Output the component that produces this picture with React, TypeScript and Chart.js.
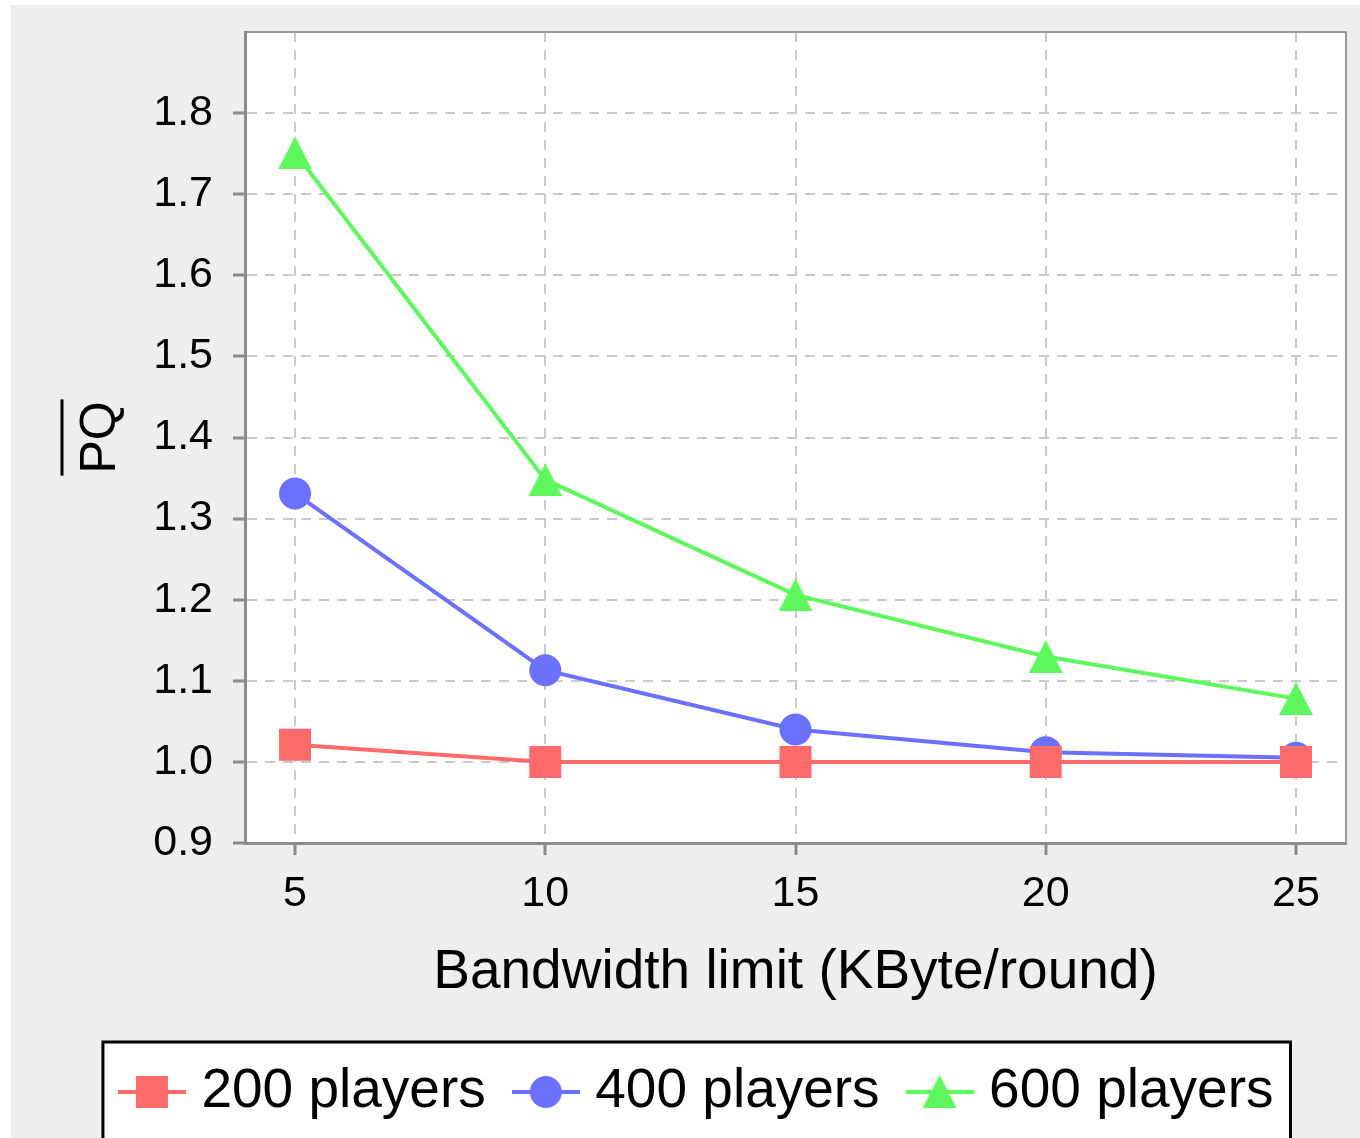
import React, { useEffect, useRef } from "react";
import { Chart, registerables } from "chart.js";

Chart.register(...registerables);

// ---- data ----
const xValues = [5, 10, 15, 20, 25];
const players200 = [1.021, 1.0, 1.0, 1.0, 1.0];
const players400 = [1.331, 1.113, 1.04, 1.012, 1.005];
const players600 = [1.751, 1.348, 1.206, 1.13, 1.078];
const seriesLabels = ["200 players", "400 players", "600 players"];
const xTickValues = [5, 10, 15, 20, 25];
const yTickValues = [0.9, 1.0, 1.1, 1.2, 1.3, 1.4, 1.5, 1.6, 1.7, 1.8];
const xTitle = "Bandwidth limit (KByte/round)";
const yTitle = "PQ";

// ---- styles ----
const FONT = '"Liberation Sans", Arial, sans-serif';
const RED = "#ff6b6b";
const BLUE = "#6b70ff";
const GREEN = "#5ef75e";
const COLORS = [RED, BLUE, GREEN];
const AXIS = "#8c8c8c";
const GRID = "#cacaca";
const W = 1349;
const H = 1133;

function makeTriangle(w: number, h: number, color: string) {
  const c = document.createElement("canvas");
  c.width = w;
  c.height = h;
  const ctx = c.getContext("2d")!;
  ctx.fillStyle = color;
  ctx.beginPath();
  ctx.moveTo(w / 2, 0);
  ctx.lineTo(w, h);
  ctx.lineTo(0, h);
  ctx.closePath();
  ctx.fill();
  return c;
}

function makeLegendImage(color: string, style: string) {
  const w = 68;
  const h = 36;
  const c = document.createElement("canvas");
  c.width = w;
  c.height = h;
  const ctx = c.getContext("2d")!;
  ctx.fillStyle = color;
  ctx.fillRect(0, h / 2 - 2, w, 4);
  if (style === "rect") {
    ctx.fillRect(w / 2 - 16, h / 2 - 16, 32, 32);
  } else if (style === "circle") {
    ctx.beginPath();
    ctx.arc(w / 2, h / 2, 16, 0, Math.PI * 2);
    ctx.fill();
  } else {
    ctx.beginPath();
    ctx.moveTo(w / 2, h / 2 - 17);
    ctx.lineTo(w / 2 + 17, h / 2 + 16);
    ctx.lineTo(w / 2 - 17, h / 2 + 16);
    ctx.closePath();
    ctx.fill();
  }
  return c;
}

export default function App() {
  const ref = useRef<HTMLCanvasElement>(null);

  useEffect(() => {
    const triangle = makeTriangle(34, 33, GREEN);
    const legendImages = [
      makeLegendImage(RED, "rect"),
      makeLegendImage(BLUE, "circle"),
      makeLegendImage(GREEN, "triangle"),
    ];

    const decor = {
      id: "decor",
      beforeDraw(chart: any) {
        const { ctx, chartArea: ca } = chart;
        ctx.save();
        ctx.fillStyle = "#ffffff";
        ctx.fillRect(ca.left, ca.top, ca.right - ca.left, ca.bottom - ca.top);
        const hb = chart.legend?.legendHitBoxes;
        if (hb && hb.length) {
          const first = hb[0];
          const last = hb[hb.length - 1];
          const left = first.left - 27;
          const right = last.left + last.width + 17;
          const top = first.top + first.height / 2 - 50;
          ctx.fillStyle = "#ffffff";
          ctx.fillRect(left, top, right - left, chart.height + 20 - top);
          ctx.strokeStyle = "#000000";
          ctx.lineWidth = 3;
          ctx.strokeRect(left, top, right - left, chart.height + 20 - top);
        }
        ctx.restore();
      },
      beforeDatasetsDraw(chart: any) {
        const { ctx, chartArea: ca } = chart;
        ctx.save();
        ctx.strokeStyle = "#999999";
        ctx.lineWidth = 2;
        ctx.beginPath();
        ctx.moveTo(ca.left, ca.top);
        ctx.lineTo(ca.right, ca.top);
        ctx.lineTo(ca.right, ca.bottom);
        ctx.stroke();
        ctx.restore();
      },
      afterDraw(chart: any) {
        const { ctx, chartArea: ca } = chart;
        const cy = (ca.top + ca.bottom) / 2;
        ctx.save();
        ctx.translate(104, cy);
        ctx.rotate(-Math.PI / 2);
        ctx.font = `50px ${FONT}`;
        ctx.fillStyle = "#000000";
        ctx.textAlign = "center";
        ctx.textBaseline = "alphabetic";
        ctx.fillText(yTitle, 0, 0);
        const tw = ctx.measureText(yTitle).width + 4;
        ctx.fillRect(-tw / 2, -54.5, tw, 3);
        ctx.restore();
      },
    };

    const gridCommon = {
      color: GRID,
      lineWidth: 2,
      drawTicks: true,
      tickLength: 12,
      tickColor: AXIS,
      tickWidth: 3,
      tickBorderDash: [],
    };
    const borderCommon = { color: AXIS, width: 3, dash: [10, 8] };

    const chart = new Chart(ref.current!, {
      type: "line",
      data: {
        datasets: [
          {
            label: seriesLabels[0],
            data: xValues.map((x, i) => ({ x, y: players200[i] })),
            borderColor: RED,
            backgroundColor: RED,
            borderWidth: 4,
            pointStyle: "rect",
            pointRadius: 16 * Math.SQRT2,
            pointBorderWidth: 0,
            pointBackgroundColor: RED,
            pointBorderColor: RED,
          },
          {
            label: seriesLabels[1],
            data: xValues.map((x, i) => ({ x, y: players400[i] })),
            borderColor: BLUE,
            backgroundColor: BLUE,
            borderWidth: 4,
            pointStyle: "circle",
            pointRadius: 16,
            pointBorderWidth: 0,
            pointBackgroundColor: BLUE,
            pointBorderColor: BLUE,
          },
          {
            label: seriesLabels[2],
            data: xValues.map((x, i) => ({ x, y: players600[i] })),
            borderColor: GREEN,
            backgroundColor: GREEN,
            borderWidth: 4,
            pointStyle: triangle as any,
            pointRadius: 17,
            pointBorderWidth: 0,
            pointBackgroundColor: GREEN,
            pointBorderColor: GREEN,
          },
        ],
      },
      options: {
        responsive: false,
        animation: false,
        devicePixelRatio: 1,
        layout: {
          autoPadding: false,
          padding: { left: 46.4, right: 14, top: 27, bottom: 8.5 },
        },
        plugins: {
          tooltip: { enabled: false },
          legend: {
            display: true,
            position: "bottom",
            labels: {
              usePointStyle: true,
              pointStyleWidth: 44,
              font: { family: FONT, size: 55 },
              color: "#000000",
              padding: 38,
              generateLabels: (ch: any) =>
                ch.data.datasets.map((ds: any, i: number) => ({
                  text: ds.label,
                  pointStyle: legendImages[i],
                  fillStyle: COLORS[i],
                  strokeStyle: COLORS[i],
                  lineWidth: 0,
                  hidden: false,
                  datasetIndex: i,
                  fontColor: "#000000",
                })),
            },
          },
        },
        scales: {
          x: {
            type: "linear",
            min: 4,
            max: 26,
            afterBuildTicks: (s: any) => {
              s.ticks = xTickValues.map((v) => ({ value: v }));
            },
            afterFit: (s: any) => {
              s.height = 183.5;
              s.paddingLeft = 0;
              s.paddingRight = 0;
            },
            ticks: {
              font: { family: FONT, size: 43 },
              color: "#000000",
              padding: 13,
              maxRotation: 0,
              autoSkip: false,
              callback: (v: any) => String(v),
            },
            grid: gridCommon as any,
            border: borderCommon as any,
            title: {
              display: true,
              text: xTitle,
              font: { family: FONT, size: 55 },
              color: "#000000",
              padding: { top: 0, bottom: 21 },
            },
          },
          y: {
            type: "linear",
            min: 0.9,
            max: 1.9,
            afterBuildTicks: (s: any) => {
              s.ticks = yTickValues.map((v) => ({ value: v }));
            },
            afterFit: (s: any) => {
              s.width = 187.6;
              s.paddingTop = 0;
              s.paddingBottom = 0;
            },
            ticks: {
              font: { family: FONT, size: 43 },
              color: "#000000",
              padding: 20,
              autoSkip: false,
              callback: (v: any) => Number(v).toFixed(1),
            },
            grid: gridCommon as any,
            border: borderCommon as any,
          },
        },
      },
      plugins: [decor],
    } as any);

    return () => chart.destroy();
  }, []);

  return (
    <div
      style={{
        position: "absolute",
        left: 0,
        top: 0,
        width: 1360,
        height: 1138,
        background: "#ffffff",
        overflow: "hidden",
      }}
    >
      <div
        style={{
          position: "absolute",
          left: 11,
          top: 5,
          width: W,
          height: H,
          background: "#eeeeee",
        }}
      >
        <canvas ref={ref} width={W} height={H} style={{ display: "block", width: W, height: H }} />
      </div>
    </div>
  );
}
